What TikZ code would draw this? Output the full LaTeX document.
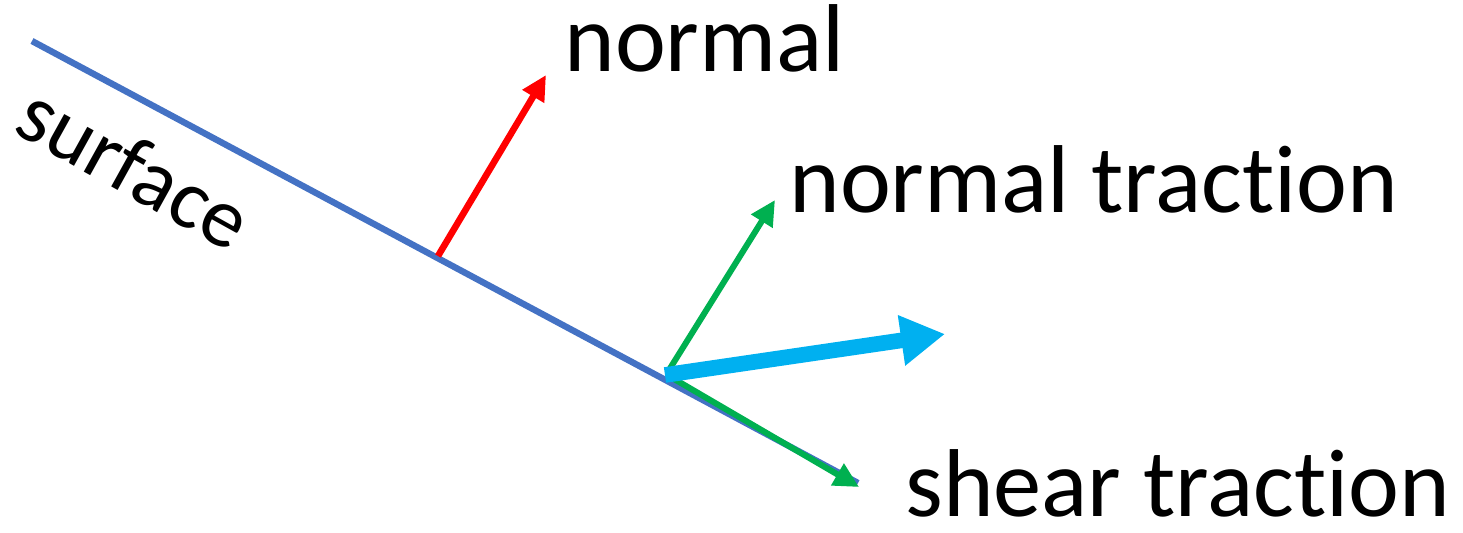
\documentclass[tikz,border=0pt]{standalone}
\usepackage{fontspec}
\setmainfont[Ligatures=NoCommon]{Carlito}
\usetikzlibrary{arrows.meta}
\definecolor{surfblue}{HTML}{4472C4}
\definecolor{nred}{HTML}{FF0000}
\definecolor{tgreen}{HTML}{00B050}
\definecolor{tcyan}{HTML}{00B0F0}
\tikzset{
  lbl/.style={inner sep=0pt, anchor=base west, font=\fontsize{48.2}{58}\selectfont},
  surf/.style={draw=surfblue, line width=3.2pt},
  redarr/.style={draw=nred, line width=3.3pt, -{Triangle[length=12.5pt,width=12pt]}},
  grnarr/.style={draw=tgreen, line width=3pt, -{Triangle[length=12.5pt,width=12pt]}},
  cyanarr/.style={draw=tcyan, line width=7.8pt, -{Triangle[length=22pt,width=24pt]}}
}
\begin{document}
\begin{tikzpicture}[x=0.5pt,y=-0.5pt]
\useasboundingbox (0,0) rectangle (1463,532);
% surface
\coordinate (s0) at (32,41);
\coordinate (s1) at (858,483);
\draw[surf] (s0) -- (s1);
% points on surface
\coordinate (rp) at (438,256);
\coordinate (rt) at (546,75);
\coordinate (gp) at (669,370);
\coordinate (gn) at (775,200);
\coordinate (gs) at (859,487);
\coordinate (ct) at (945,334);
\draw[redarr] (rp) -- (rt);
\draw[grnarr] (gp) -- (gn);
\draw[grnarr] ([yshift=-3]gp) -- (gs);
\draw[cyanarr] (665,375) -- (ct);
% labels
\node[lbl] (nl) at (564,71) {normal};
\node[lbl] (ntl) at (789,212) {normal traction};
\node[lbl] (stl) at (905,516) {shear traction};
\node[inner sep=0pt, font=\fontsize{42.5}{51}\selectfont, rotate=-29] (sl) at (135,167) {surface};
\end{tikzpicture}
\end{document}
